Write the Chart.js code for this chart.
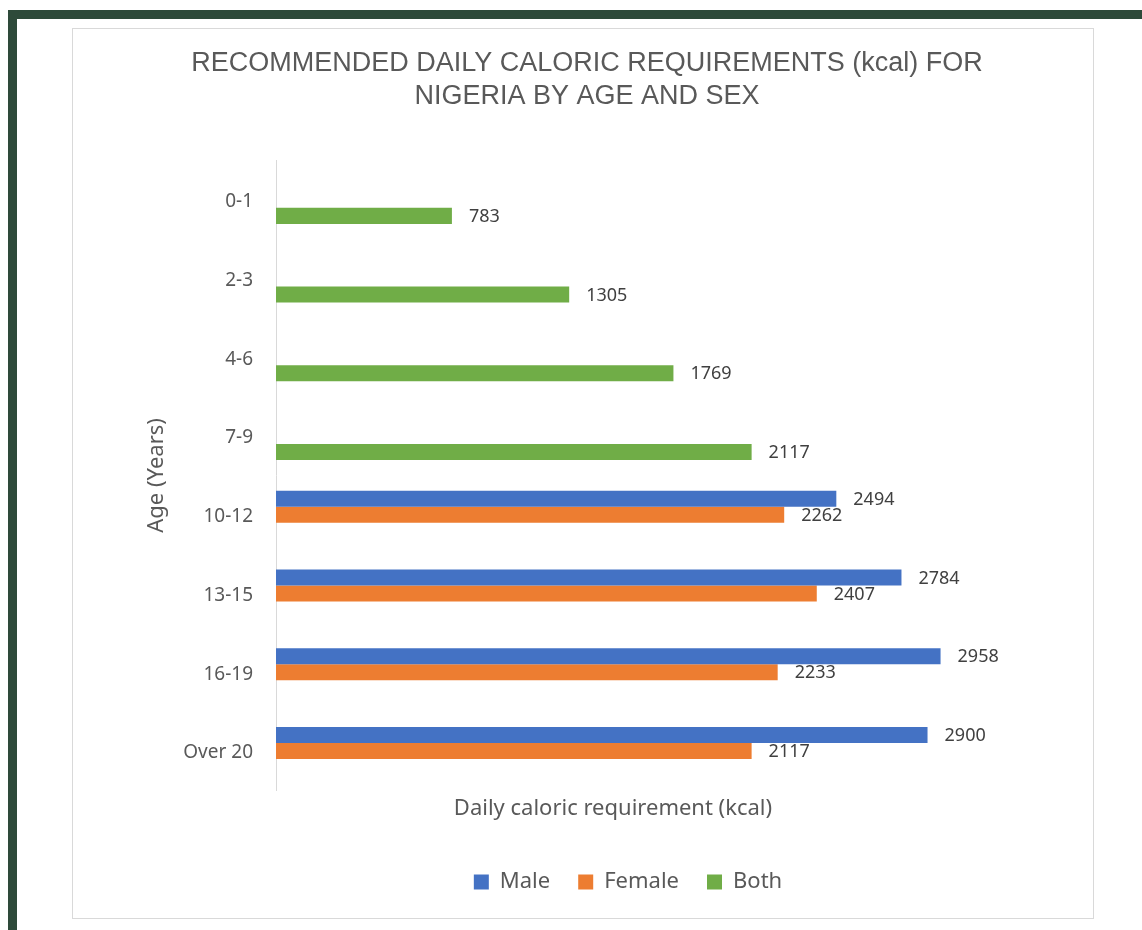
<!DOCTYPE html>
<html>
<head>
<meta charset="utf-8">
<script src="https://cdn.jsdelivr.net/npm/chart.js@4.4.0/dist/chart.umd.min.js"></script>
<style>
  html, body { margin: 0; padding: 0; background: #ffffff; width: 1142px; height: 930px; overflow: hidden; }
  #frameTop { position: absolute; left: 8px; top: 10px; width: 1134px; height: 9px; background: #2e4a3a; }
  #frameLeft { position: absolute; left: 8px; top: 10px; width: 9px; height: 920px; background: #2e4a3a; }
  #box { position: absolute; left: 72px; top: 28px; width: 1022px; height: 891px; box-sizing: border-box; border: 1px solid #d9d9d9; background: #ffffff; }
  #c { position: absolute; left: 0; top: 0; }
</style>
</head>
<body>
<div id="frameTop"></div>
<div id="frameLeft"></div>
<div id="box"></div>
<canvas id="c" width="1142" height="930"></canvas>
<script>
const categories = ["0-1", "2-3", "4-6", "7-9", "10-12", "13-15", "16-19", "Over 20"];
const maleValues   = [null, null, null, null, 2494, 2784, 2958, 2900];
const femaleValues = [null, null, null, null, 2262, 2407, 2233, 2117];
const bothValues   = [783, 1305, 1769, 2117, null, null, null, null];
const titleLines = ["RECOMMENDED DAILY CALORIC REQUIREMENTS (kcal) FOR", "NIGERIA BY AGE AND SEX"];
const xAxisTitle = "Daily caloric requirement (kcal)";
const yAxisTitle = "Age (Years)";

const TEXT = '#595959';
const FONT = '"Noto Sans", "DejaVu Sans", sans-serif';

const valueLabels = {
  id: 'valueLabels',
  afterDatasetsDraw(chart) {
    const ctx = chart.ctx;
    ctx.save();
    ctx.font = '18px ' + FONT;
    ctx.fillStyle = '#404040';
    ctx.textAlign = 'left';
    ctx.textBaseline = 'middle';
    chart.data.datasets.forEach((ds, i) => {
      const meta = chart.getDatasetMeta(i);
      meta.data.forEach((bar, j) => {
        const v = ds.data[j];
        if (v === null || v === undefined) return;
        ctx.fillText(String(v), bar.x + 17, bar.y + 1);
      });
    });
    ctx.restore();
  }
};

const placeBlocks = {
  id: 'placeBlocks',
  afterLayout(chart) {
    const t = chart.titleBlock;
    if (t) { t.left = 60; t.right = 1114; }
    const l = chart.legend;
    if (l) {
      const w = l.right - l.left;
      l.left = 628 - w / 2;
      l.right = 628 + w / 2;
    }
  }
};

new Chart(document.getElementById('c'), {
  type: 'bar',
  data: {
    labels: categories,
    datasets: [
      { label: 'Male', data: maleValues, backgroundColor: '#4472C4' },
      { label: 'Female', data: femaleValues, backgroundColor: '#ED7D31' },
      { label: 'Both', data: bothValues, backgroundColor: '#70AD47' }
    ]
  },
  options: {
    indexAxis: 'y',
    responsive: false,
    animation: false,
    devicePixelRatio: 1,
    barPercentage: 1.0,
    categoryPercentage: 0.61,
    layout: { padding: { left: 140, right: 192, top: 28, bottom: 27 } },
    scales: {
      x: {
        min: 0,
        max: 3000,
        ticks: { display: false },
        grid: { display: false, drawTicks: false },
        border: { display: false },
        title: {
          display: true,
          text: xAxisTitle,
          color: TEXT,
          font: { family: FONT, size: 22, lineHeight: 1.2 },
          padding: { top: 5.4, bottom: 20.8 }
        }
      },
      y: {
        grid: { display: false, drawTicks: false },
        border: { display: true, color: '#d9d9d9', width: 1 },
        ticks: {
          color: TEXT,
          font: { family: FONT, size: 19 },
          padding: 23,
          labelOffset: 2
        },
        title: {
          display: true,
          text: yAxisTitle,
          color: TEXT,
          font: { family: FONT, size: 22, lineHeight: 1.2 },
          padding: { top: 3.8, bottom: 0 }
        },
        afterFit(scale) { scale.width = 136; }
      }
    },
    plugins: {
      title: {
        display: true,
        text: titleLines,
        color: TEXT,
        font: { family: '"Liberation Sans", Arial, sans-serif', size: 27, weight: 'normal', lineHeight: 1.2222 },
        padding: { top: 19.5, bottom: 47 }
      },
      legend: {
        display: true,
        position: 'bottom',
        labels: {
          color: TEXT,
          font: { family: FONT, size: 22 },
          boxWidth: 15,
          boxHeight: 15,
          padding: 28
        }
      },
      tooltip: { enabled: false }
    }
  },
  plugins: [valueLabels, placeBlocks]
});
</script>
</body>
</html>
